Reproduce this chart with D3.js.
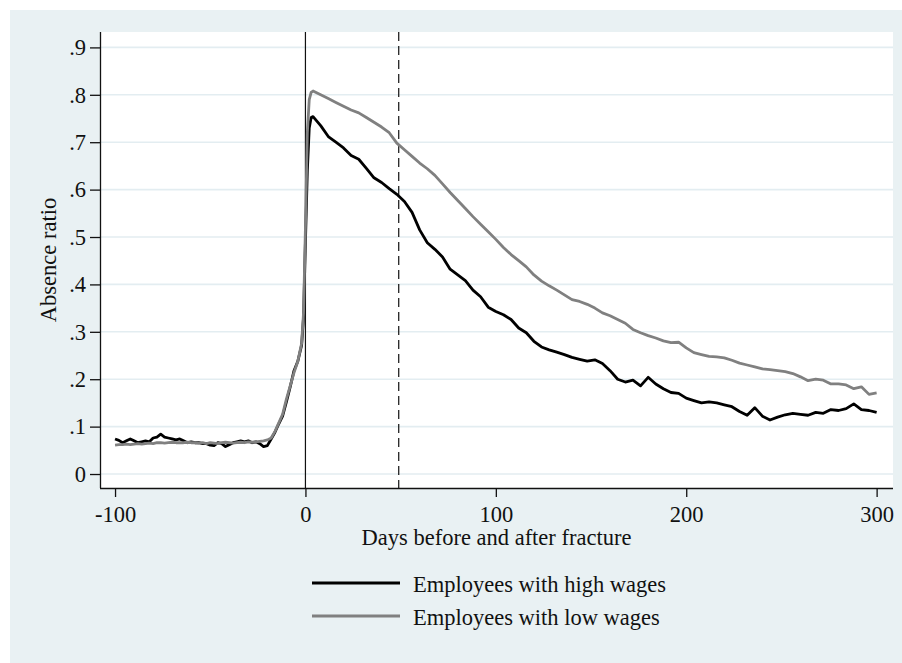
<!DOCTYPE html>
<html>
<head>
<meta charset="utf-8">
<script src="https://cdn.jsdelivr.net/npm/d3@7"></script>
<style>
  body { margin: 0; background: #fff; }
  svg text { font-family: "Liberation Serif", "Times New Roman", serif; fill: #111; }
</style>
</head>
<body>
<svg id="chart" width="902" height="663"></svg>
<script>
// days relative to fracture
var days = [-100,-98,-96,-94,-92,-90,-88,-86,-84,-82,-80,-78,-76,-74,-72,-70,-68,-66,-64,-62,
  -60,-58,-56,-54,-52,-50,-48,-46,-44,-42,-40,-38,-36,-34,-32,-30,-28,-26,-24,-22,-20,
  -18,-16,-14,-12,-10,-8,-6,-4,-2,-1,0,1,2,3,
  4,8,12,16,20,24,28,32,36,40,44,48,52,56,60,64,68,72,76,80,84,88,92,96,100,
  104,108,112,116,120,124,128,132,136,140,144,148,152,156,160,164,168,172,176,180,
  184,188,192,196,200,204,208,212,216,220,224,228,232,236,240,244,248,252,256,260,
  264,268,272,276,280,284,288,292,296,300];

var highWages = [0.074,0.071,0.066,0.070,0.074,0.070,0.066,0.068,0.070,0.068,0.076,0.078,0.084,0.078,0.076,0.074,0.072,0.074,0.070,0.066,
  0.068,0.066,0.066,0.064,0.064,0.061,0.060,0.066,0.064,0.058,0.062,0.066,0.068,0.070,0.068,0.070,0.066,0.068,0.064,0.058,0.060,
  0.074,0.088,0.106,0.122,0.152,0.184,0.218,0.238,0.272,0.330,0.490,0.640,0.730,0.752,
  0.754,0.735,0.712,0.700,0.688,0.672,0.664,0.645,0.625,0.615,0.602,0.590,0.575,0.552,0.515,0.488,0.474,0.458,0.432,0.420,0.408,0.388,0.374,0.352,0.343,
  0.336,0.326,0.308,0.298,0.280,0.268,0.262,0.257,0.252,0.246,0.242,0.238,0.241,0.233,0.218,0.200,0.194,0.198,0.186,0.204,
  0.190,0.180,0.172,0.170,0.160,0.155,0.150,0.152,0.150,0.146,0.142,0.132,0.124,0.140,0.122,0.114,0.120,0.125,0.128,0.126,
  0.124,0.130,0.128,0.136,0.134,0.138,0.148,0.136,0.134,0.130];

var lowWages = [0.061,0.062,0.062,0.063,0.062,0.063,0.064,0.063,0.064,0.065,0.064,0.066,0.066,0.065,0.066,0.067,0.066,0.066,0.066,0.067,
  0.066,0.066,0.065,0.066,0.064,0.066,0.065,0.064,0.066,0.067,0.066,0.065,0.066,0.067,0.066,0.068,0.067,0.068,0.069,0.070,0.072,
  0.076,0.090,0.108,0.126,0.158,0.186,0.214,0.238,0.276,0.340,0.520,0.720,0.790,0.805,
  0.808,0.800,0.792,0.784,0.776,0.768,0.762,0.752,0.742,0.732,0.720,0.698,0.684,0.670,0.656,0.644,0.630,0.612,0.594,0.577,0.560,0.543,0.527,0.511,0.495,
  0.478,0.463,0.450,0.437,0.420,0.407,0.397,0.388,0.378,0.368,0.364,0.358,0.350,0.340,0.334,0.326,0.318,0.305,0.298,0.292,
  0.287,0.281,0.277,0.278,0.266,0.256,0.252,0.248,0.247,0.245,0.240,0.234,0.230,0.226,0.222,0.220,0.218,0.216,0.212,0.205,
  0.197,0.200,0.198,0.190,0.190,0.188,0.180,0.184,0.168,0.171];

var yTicks = [0, 0.1, 0.2, 0.3, 0.4, 0.5, 0.6, 0.7, 0.8, 0.9];
var xTicks = [-100, 0, 100, 200, 300];
var refLines = [0, 49];
var seriesNames = ['Employees with high wages', 'Employees with low wages'];
var seriesColors = ['#000000', '#808080'];

var svg = d3.select('#chart');
var W = 902, H = 663;
var plot = {left: 100, right: 893, top: 32, bottom: 488};
var fs = '22.5px';

// graph region
svg.append('rect').attr('x', 10).attr('y', 10).attr('width', W - 10).attr('height', H - 10)
  .attr('fill', '#e9f1f3');
svg.append('rect').attr('x', plot.left).attr('y', plot.top)
  .attr('width', plot.right - plot.left).attr('height', plot.bottom - plot.top)
  .attr('fill', '#ffffff');

var x = d3.scaleLinear().domain([-107.9, 308.6]).range([plot.left, plot.right]);
var y = d3.scaleLinear().domain([-0.0295, 0.9325]).range([plot.bottom, plot.top]);

// grid lines
svg.append('g').selectAll('line').data(yTicks).enter().append('line')
  .attr('x1', plot.left).attr('x2', plot.right)
  .attr('y1', d => y(d)).attr('y2', d => y(d))
  .attr('stroke', '#e3edf1').attr('stroke-width', 1.6);

// reference lines at fracture and day 49
svg.append('line')
  .attr('x1', x(refLines[0])).attr('x2', x(refLines[0]))
  .attr('y1', plot.top).attr('y2', plot.bottom)
  .attr('stroke', '#111').attr('stroke-width', 1.2);
svg.append('line')
  .attr('x1', x(refLines[1])).attr('x2', x(refLines[1]))
  .attr('y1', plot.top).attr('y2', plot.bottom)
  .attr('stroke', '#111').attr('stroke-width', 1.2)
  .attr('stroke-dasharray', '9,5');

// series (low wages drawn last, on top)
var line = d3.line().x((d, i) => x(days[i])).y(d => y(d));
[highWages, lowWages].forEach(function(vals, k) {
  svg.append('path').datum(vals)
    .attr('d', line)
    .attr('fill', 'none')
    .attr('stroke', seriesColors[k])
    .attr('stroke-width', 2.8)
    .attr('stroke-linejoin', 'round');
});

// axes
var yAxis = d3.axisLeft(y).tickValues(yTicks).tickSize(10).tickPadding(4)
  .tickFormat(d => d === 0 ? '0' : d3.format('.1f')(d).replace(/^0/, ''));
var gy = svg.append('g').attr('transform', 'translate(' + plot.left + ',0)').call(yAxis);
gy.select('.domain').attr('d', 'M0.5,' + plot.top + 'V' + plot.bottom).attr('stroke', '#111').attr('stroke-width', 1.3);
gy.selectAll('.tick line').attr('stroke', '#111').attr('stroke-width', 1.3);
gy.selectAll('.tick text').attr('font-size', fs)
  .attr('font-family', '"Liberation Serif", serif').attr('fill', '#111');

var xAxis = d3.axisBottom(x).tickValues(xTicks).tickSize(9).tickPadding(9)
  .tickFormat(d => String(d));
var gx = svg.append('g').attr('transform', 'translate(0,' + plot.bottom + ')').call(xAxis);
gx.select('.domain').attr('d', 'M' + plot.left + ',0.5H' + plot.right).attr('stroke', '#111').attr('stroke-width', 1.3);
gx.selectAll('.tick line').attr('stroke', '#111').attr('stroke-width', 1.3);
gx.selectAll('.tick text').attr('font-size', fs)
  .attr('font-family', '"Liberation Serif", serif').attr('fill', '#111');

// axis titles
svg.append('text').text('Days before and after fracture')
  .attr('x', (plot.left + plot.right) / 2).attr('y', 545)
  .attr('text-anchor', 'middle').attr('font-size', fs);
svg.append('text').text('Absence ratio')
  .attr('transform', 'translate(56,' + ((plot.top + plot.bottom) / 2) + ') rotate(-90)')
  .attr('text-anchor', 'middle').attr('font-size', fs);

// legend
var leg = svg.append('g');
seriesNames.forEach(function(name, k) {
  var ly = 583 + k * 33;
  leg.append('line').attr('x1', 312).attr('x2', 400).attr('y1', ly).attr('y2', ly)
    .attr('stroke', seriesColors[k]).attr('stroke-width', 2.8);
  leg.append('text').text(name).attr('x', 413).attr('y', ly + 9)
    .attr('font-size', fs);
});
</script>
</body>
</html>
